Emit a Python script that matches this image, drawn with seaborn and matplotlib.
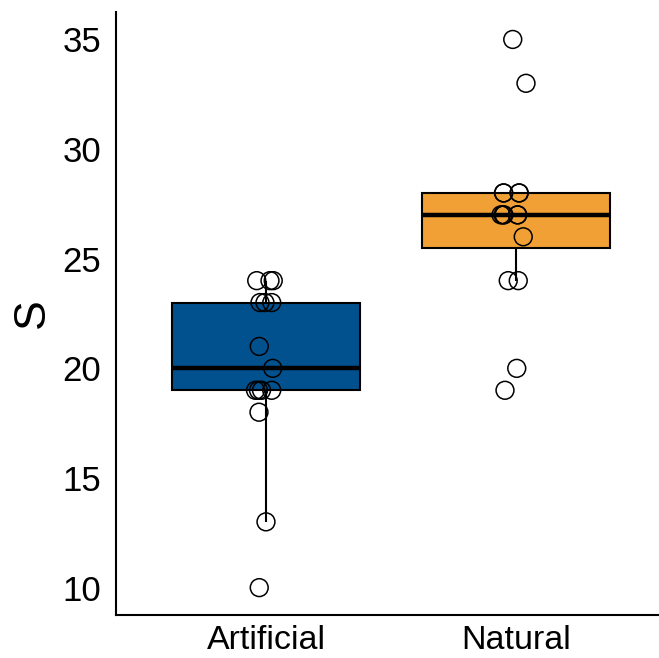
import numpy as np
import pandas as pd
import matplotlib
matplotlib.use("Agg")
import matplotlib.pyplot as plt
import seaborn as sns

# values (some points overlap almost exactly)
groups = ["Artificial", "Natural"]
artificial_s = [24, 24, 24, 23, 23, 23, 21, 20, 19, 19, 19, 19, 18, 13, 10]
artificial_jit = [-0.037, 0.016, 0.029, -0.024, -0.004, 0.023, -0.027, 0.027,
                  -0.042, -0.030, -0.018, 0.023, -0.028, 0.0, -0.027]
natural_s = [35, 33, 28, 28, 28, 28, 27, 27, 27, 27, 27, 26, 24, 24, 20, 19]
natural_jit = [-0.013, 0.040, -0.050, -0.049, 0.012, 0.013, -0.060, -0.052,
               -0.048, 0.006, 0.007, 0.029, -0.031, 0.009, 0.003, -0.044]
box_colors = ["#02518F", "#F0A035"]

df = pd.DataFrame({
    "group": ["Artificial"] * len(artificial_s) + ["Natural"] * len(natural_s),
    "S": artificial_s + natural_s,
    "jit": artificial_jit + natural_jit,
})
df["xpos"] = df["group"].map({g: i for i, g in enumerate(groups)}) + df["jit"]

sns.set_style("white")
plt.rcParams["font.family"] = ["Liberation Sans", "DejaVu Sans"]

fig = plt.figure(figsize=(6.59, 6.58), dpi=100)
ax = fig.add_axes([0.176, 0.0653, 0.824, 0.9164])

sns.boxplot(data=df, x="group", y="S", hue="group", order=groups,
            palette=box_colors, saturation=1, width=0.75, showfliers=False,
            showcaps=False, linecolor="black", linewidth=1.5,
            medianprops={"linewidth": 3.2, "color": "black"},
            legend=False, ax=ax)

ax.scatter(df["xpos"], df["S"], s=165, facecolors="none",
           edgecolors="black", linewidths=1.1, zorder=5)

ax.set_xlim(-0.6, 1.572)
ax.set_ylim(8.75, 36.25)
ax.set_yticks([10, 15, 20, 25, 30, 35])
ax.set_xlabel("")
ax.set_ylabel("S", fontsize=32, labelpad=7, color="black")
ax.tick_params(axis="both", labelsize=25, length=6.5, width=1.3,
               color="black", labelcolor="black", direction="out")
ax.tick_params(axis="y", pad=4)
ax.tick_params(axis="x", labelsize=24.5, pad=1)

sns.despine(ax=ax)
for side in ["left", "bottom"]:
    ax.spines[side].set_linewidth(1.5)
    ax.spines[side].set_color("black")

fig.savefig("out.png", dpi=100)
